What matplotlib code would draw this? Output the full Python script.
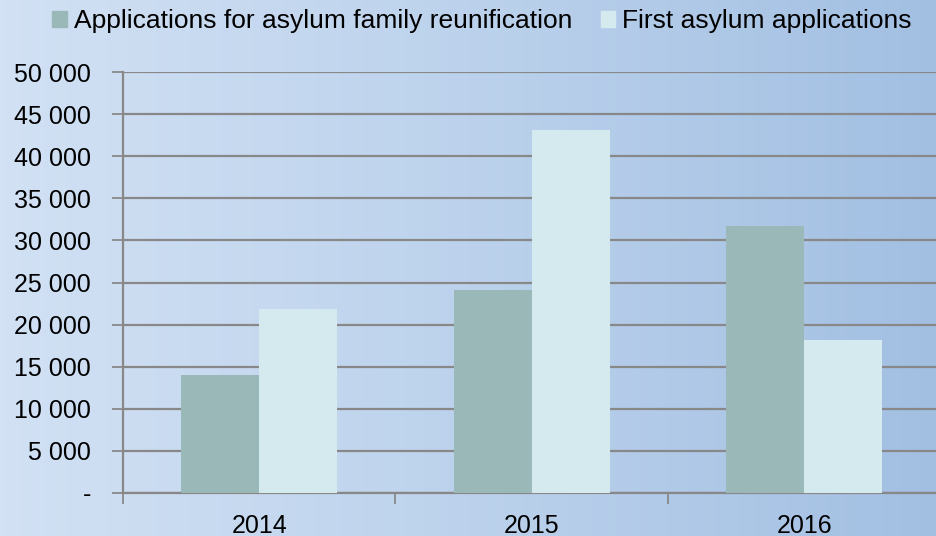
import matplotlib
matplotlib.use("Agg")
import matplotlib.pyplot as plt
import numpy as np
from matplotlib.colors import LinearSegmentedColormap
from matplotlib.patches import Patch

# data
years = ["2014", "2015", "2016"]
family_reunification = [14000, 24100, 31700]
first_applications = [21800, 43100, 18200]
series_names = ["Applications for asylum family reunification", "First asylum applications"]

plt.rcParams["font.family"] = ["Liberation Sans", "DejaVu Sans"]

fig = plt.figure(figsize=(9.37, 5.36), dpi=100)

# background gradient
bg = fig.add_axes([0, 0, 1, 1], zorder=0)
cmap = LinearSegmentedColormap.from_list("bg", ["#d2e1f4", "#bcd2ec", "#a2bfe2"])
grad = np.linspace(0, 1, 256).reshape(1, -1)
bg.imshow(grad, aspect="auto", cmap=cmap, extent=[0, 1, 0, 1])
bg.axis("off")

ax = fig.add_axes([123 / 937, 43 / 536, (940.5 - 123) / 937, (493 - 72) / 536], zorder=1)
ax.patch.set_alpha(0)

x = np.arange(len(years))
w = 0.286
ax.bar(x - w / 2, family_reunification, w, color="#9bb8b9", zorder=3)
ax.bar(x + w / 2, first_applications, w, color="#d5eaee", zorder=3)

ax.set_xlim(-0.5, 2.5)
ax.set_ylim(0, 50000)
ax.set_yticks(np.arange(0, 50001, 5000))
ax.set_yticklabels(["-" if v == 0 else f"{v:,}".replace(",", " ") for v in range(0, 50001, 5000)])
ax.yaxis.grid(True, color="#888888", linewidth=1.6, zorder=1)
ax.set_axisbelow(True)

ax.set_xticks(x)
ax.set_xticklabels(years)
ax.set_xticks([-0.5, 0.5, 1.5], minor=True)
ax.tick_params(axis="x", which="major", length=0, pad=15, labelsize=18)
ax.tick_params(axis="x", which="minor", length=8, color="#888888", width=1.3)
ax.tick_params(axis="y", length=8, color="#888888", width=1.3, labelsize=18, pad=15)

for s in ["top", "right"]:
    ax.spines[s].set_visible(False)
for s in ["left", "bottom"]:
    ax.spines[s].set_color("#888888")
    ax.spines[s].set_linewidth(1.6)

handles = [Patch(color="#9bb8b9"), Patch(color="#d5eaee")]
fig.legend(handles, series_names, loc="center", bbox_to_anchor=(482 / 937, 1 - 21 / 536),
           ncol=2, frameon=False, fontsize=19, handlelength=0.55, handleheight=0.55,
           handletextpad=0.25, columnspacing=1.1)

fig.savefig("out.png", dpi=100)
